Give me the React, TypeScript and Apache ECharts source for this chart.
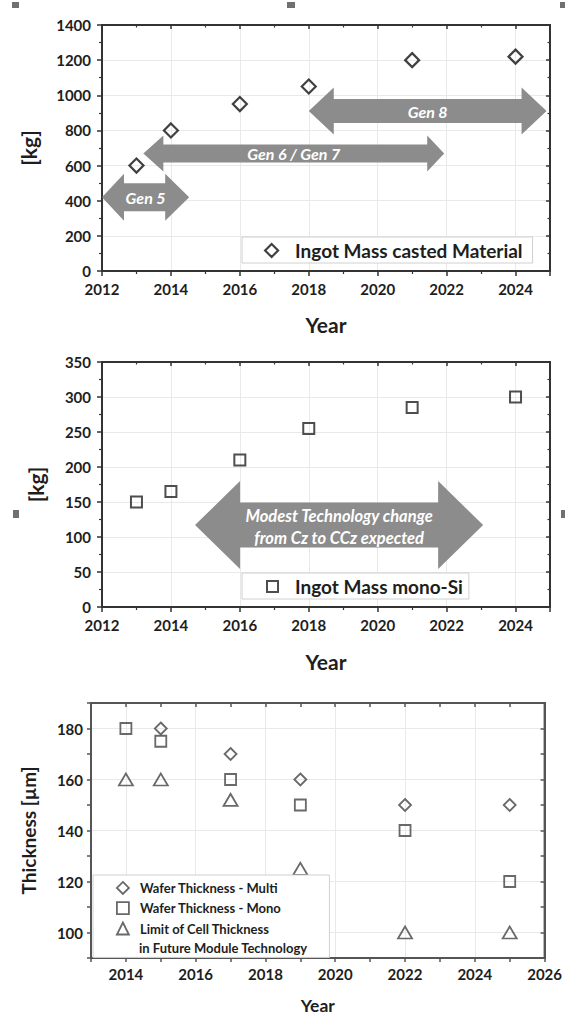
import React, { useEffect, useRef } from 'react';
import * as echarts from 'echarts';

// ---------- data ----------
const castedYears = [2013, 2014, 2016, 2018, 2021, 2024];
const castedMass = [600, 800, 950, 1050, 1200, 1220];

const monoYears = [2013, 2014, 2016, 2018, 2021, 2024];
const monoMass = [150, 165, 210, 255, 285, 300];

const genLabels = ['Gen 5', 'Gen 6 / Gen 7', 'Gen 8'];
const genFrom = [2012, 2013.2, 2018];
const genTo = [2014.53, 2021.93, 2024.9];
const genLevel = [420, 668, 910];

const techLines = ['Modest Technology change', 'from Cz to CCz expected'];
const techFrom = [2014.7];
const techTo = [2023.06];
const techLevel = [117];

const multiYears = [2015, 2017, 2019, 2022, 2025];
const multiThickness = [180, 170, 160, 150, 150];
const monoThkYears = [2014, 2015, 2017, 2019, 2022, 2025];
const monoThickness = [180, 175, 160, 150, 140, 120];
const limitYears = [2014, 2015, 2017, 2019, 2022, 2025];
const limitThickness = [160, 160, 152, 125, 100, 100];

const legendCasted = 'Ingot Mass casted Material';
const legendMono = 'Ingot Mass mono-Si';
const legendMulti = 'Wafer Thickness - Multi';
const legendMonoThk = 'Wafer Thickness - Mono';
const legendLimit = 'Limit of Cell Thickness';
const legendLimit2 = 'in Future Module Technology';

// ---------- styles ----------
const FONT = 'Lato';
const TXT = '#1e1e1e';
const AX1 = '#333333';
const AX3 = '#555555';
const MK3 = '#444444';
const GRIDC = '#e9e9e9';
const ARROW = '#8c8c8c';

const genHeadHalf = [23.5, 18, 23.5];
const genBodyHalf = [14, 9, 12];
const genHeadLen = [[22, 24], [20, 17], [25, 25]];
const techHeadHalf = [44];
const techBodyHalf = [22.5];
const techHeadLen = [[45, 45]];

const pair = (xs: number[], ys: number[]) => xs.map((x, i) => [x, ys[i]]);

function arrowRenderer(
  headHalf: number[],
  bodyHalf: number[],
  headLen: number[][],
  linesOf: (i: number) => string[],
  fontSize: number,
  lineOffsets: number[]
) {
  return (params: any, api: any) => {
    const i = api.value(3);
    const a = api.coord([api.value(0), api.value(2)]);
    const b = api.coord([api.value(1), api.value(2)]);
    const x1 = a[0];
    const x2 = b[0];
    const yc = a[1];
    const hh = headHalf[i];
    const bh = bodyHalf[i];
    const [l1, l2] = headLen[i];
    const points = [
      [x1, yc], [x1 + l1, yc - hh], [x1 + l1, yc - bh], [x2 - l2, yc - bh], [x2 - l2, yc - hh],
      [x2, yc], [x2 - l2, yc + hh], [x2 - l2, yc + bh], [x1 + l1, yc + bh], [x1 + l1, yc + hh],
    ];
    const lines = linesOf(i);
    const children: any[] = [
      { type: 'polygon', shape: { points }, style: { fill: ARROW } },
    ];
    lines.forEach((t, k) => {
      children.push({
        type: 'text',
        style: {
          text: t,
          x: (x1 + x2) / 2,
          y: yc + lineOffsets[k],
          fill: '#ffffff',
          fontFamily: FONT,
          fontSize,
          fontStyle: 'italic',
          fontWeight: 'bold',
          align: 'center',
          verticalAlign: 'middle',
        },
      });
    });
    return { type: 'group', children };
  };
}

const tickLabel = { fontFamily: FONT, fontWeight: 'bold' as const, fontSize: 15, color: TXT };

function mainX(gridIndex: number, min: number, max: number, interval: number, color: string, extra: any) {
  return {
    type: 'value', gridIndex, position: 'bottom', min, max, interval,
    axisLine: { show: true, onZero: false, lineStyle: { color, width: 2 } },
    axisTick: { show: true, inside: false, length: 5, lineStyle: { color, width: 1.5 } },
    splitLine: { show: true, lineStyle: { color: GRIDC, width: 1 } },
    axisLabel: { ...tickLabel, margin: 10, formatter: (v: number) => String(v) },
    nameLocation: 'middle',
    nameTextStyle: { fontFamily: FONT, fontWeight: 'bold', fontSize: 21, color: TXT },
    ...extra,
  };
}
function mirrorX(gridIndex: number, min: number, max: number, interval: number, color: string, minor: boolean) {
  return {
    type: 'value', gridIndex, position: 'top', min, max, interval,
    axisLine: { show: true, onZero: false, lineStyle: { color, width: 2 } },
    axisTick: { show: true, inside: true, length: 4, lineStyle: { color, width: 1.5 } },
    minorTick: { show: minor, splitNumber: 2, length: 2.5, lineStyle: { color, width: 1.2 } },
    splitLine: { show: false },
    axisLabel: { show: false },
  };
}
function mainY(gridIndex: number, min: number, max: number, interval: number, color: string, extra: any) {
  return {
    type: 'value', gridIndex, position: 'left', min, max, interval,
    axisLine: { show: true, onZero: false, lineStyle: { color, width: 2 } },
    axisTick: { show: true, inside: false, length: 5, lineStyle: { color, width: 1.5 } },
    splitLine: { show: true, lineStyle: { color: GRIDC, width: 1 } },
    axisLabel: { ...tickLabel, margin: 11, formatter: (v: number) => String(v) },
    nameLocation: 'middle',
    nameRotate: 90,
    nameTextStyle: { fontFamily: FONT, fontWeight: 'bold', fontSize: 21, color: TXT },
    ...extra,
  };
}
function mirrorY(gridIndex: number, min: number, max: number, interval: number, color: string, minor: boolean) {
  return {
    type: 'value', gridIndex, position: 'right', min, max, interval,
    axisLine: { show: true, onZero: false, lineStyle: { color, width: 2 } },
    axisTick: { show: true, inside: true, length: 4, lineStyle: { color, width: 1.5 } },
    minorTick: { show: minor, splitNumber: 2, length: 2.5, lineStyle: { color, width: 1.2 } },
    splitLine: { show: false },
    axisLabel: { show: false },
  };
}

const minor1 = (color: string) => ({ show: true, splitNumber: 2, length: 3, lineStyle: { color, width: 1.2 } });

function buildOption() {
  const handle = (x: number, y: number, w: number, h: number) => ({
    type: 'rect', shape: { x, y, width: w, height: h }, style: { fill: '#707070' }, z: 100,
  });
  return {
    animation: false,
    backgroundColor: '#ffffff',
    textStyle: { fontFamily: FONT },
    grid: [
      { left: 102, top: 25, width: 448, height: 246, show: true, borderColor: AX1, borderWidth: 2, backgroundColor: 'transparent' },
      { left: 102, top: 362, width: 448, height: 245, show: true, borderColor: AX1, borderWidth: 2, backgroundColor: 'transparent' },
      { left: 91, top: 703, width: 459, height: 255, show: true, borderColor: AX3, borderWidth: 2, backgroundColor: 'transparent' },
    ],
    xAxis: [
      mainX(0, 2012, 2025, 2, AX1, { minorTick: minor1(AX1), axisLabel: { ...tickLabel, margin: 10, showMaxLabel: false, formatter: (v: number) => String(v) }, name: 'Year', nameGap: 43 }),
      mirrorX(0, 2012, 2025, 2, AX1, true),
      mainX(1, 2012, 2025, 2, AX1, { minorTick: minor1(AX1), axisLabel: { ...tickLabel, margin: 10, showMaxLabel: false, formatter: (v: number) => String(v) }, name: 'Year', nameGap: 44 }),
      mirrorX(1, 2012, 2025, 2, AX1, true),
      mainX(2, 2013, 2026, 1, AX3, {
        axisTick: { show: true, inside: false, length: 4, lineStyle: { color: AX3, width: 1.5 } },
        splitLine: { show: true, lineStyle: { color: ['rgba(0,0,0,0)', GRIDC], width: 1 } },
        axisLabel: { ...tickLabel, margin: 8, formatter: (v: number) => (v % 2 === 0 ? String(v) : '') },
        name: 'Year', nameGap: 38,
        nameTextStyle: { fontFamily: FONT, fontWeight: 'bold', fontSize: 17.5, color: TXT },
      }),
      mirrorX(2, 2013, 2026, 1, AX3, false),
    ],
    yAxis: [
      mainY(0, 0, 1400, 200, AX1, { minorTick: minor1(AX1), name: '[kg]', nameGap: 63 }),
      mirrorY(0, 0, 1400, 200, AX1, true),
      mainY(1, 0, 350, 50, AX1, { minorTick: minor1(AX1), name: '[kg]', nameGap: 56 }),
      mirrorY(1, 0, 350, 50, AX1, true),
      mainY(2, 90, 190, 10, AX3, {
        axisTick: { show: true, inside: false, length: 4, lineStyle: { color: AX3, width: 1.5 } },
        splitLine: { show: true, lineStyle: { color: ['rgba(0,0,0,0)', GRIDC], width: 1 } },
        axisLabel: { ...tickLabel, margin: 8, formatter: (v: number) => (v % 20 === 0 && v !== 190 && v !== 90 ? String(v) : '') },
        name: 'Thickness [µm]', nameGap: 53,
        nameTextStyle: { fontFamily: FONT, fontWeight: 'bold', fontSize: 19, color: TXT },
      }),
      mirrorY(2, 90, 190, 10, AX3, false),
    ],
    legend: [
      {
        left: 242, top: 237, orient: 'horizontal', padding: [4, 10, 3, 22],
        itemWidth: 13, itemHeight: 13,
        backgroundColor: '#ffffff', borderColor: '#d0d0d0', borderWidth: 1,
        textStyle: { fontFamily: FONT, fontWeight: 'bold', fontSize: 19, color: TXT, padding: [0, 0, 0, 12] },
        selectedMode: false,
        data: [{ name: legendCasted, icon: 'diamond', itemStyle: { color: '#ffffff', borderColor: '#111111', borderWidth: 2.2 } }],
      },
      {
        left: 242, top: 573, orient: 'horizontal', padding: [4, 6, 3, 24],
        itemWidth: 11, itemHeight: 11,
        backgroundColor: '#ffffff', borderColor: '#d0d0d0', borderWidth: 1,
        textStyle: { fontFamily: FONT, fontWeight: 'bold', fontSize: 19, color: TXT, padding: [0, 0, 0, 12] },
        selectedMode: false,
        data: [{ name: legendMono, icon: 'rect', itemStyle: { color: '#ffffff', borderColor: '#222222', borderWidth: 2 } }],
      },
      {
        left: 93, top: 875, orient: 'vertical', padding: [6, 48, 22, 23], itemGap: 6.5,
        itemWidth: 12, itemHeight: 12,
        backgroundColor: '#ffffff', borderColor: '#d0d0d0', borderWidth: 1,
        textStyle: { fontFamily: FONT, fontWeight: 'bold', fontSize: 13, color: TXT, padding: [0, 0, 0, 6] },
        selectedMode: false,
        data: [
          { name: legendMulti, icon: 'diamond', itemStyle: { color: '#ffffff', borderColor: MK3, borderWidth: 1.8 } },
          { name: legendMonoThk, icon: 'rect', itemStyle: { color: '#ffffff', borderColor: MK3, borderWidth: 1.8 } },
          { name: legendLimit, icon: 'triangle', itemStyle: { color: '#ffffff', borderColor: MK3, borderWidth: 1.8 } },
        ],
      },
    ],
    graphic: [
      {
        type: 'text', x: 139, y: 948, z: 100,
        style: { text: legendLimit2, fill: TXT, fontFamily: FONT, fontWeight: 'bold', fontSize: 13, verticalAlign: 'middle' },
      },
      handle(12, 2, 7, 6),
      handle(287, 2, 8, 6),
      handle(560, 2, 5, 6),
      handle(13, 510, 6, 8),
      handle(561, 510, 4, 8),
    ],
    series: [
      {
        type: 'custom', name: 'genArrows', xAxisIndex: 0, yAxisIndex: 0, z: 1,
        encode: { x: [0, 1], y: 2 },
        data: genFrom.map((f, i) => [f, genTo[i], genLevel[i], i]),
        renderItem: arrowRenderer(genHeadHalf, genBodyHalf, genHeadLen, (i) => [genLabels[i]], 16, [0]),
      },
      {
        type: 'scatter', name: legendCasted, xAxisIndex: 0, yAxisIndex: 0, z: 3,
        symbol: 'diamond', symbolSize: 14,
        itemStyle: { color: 'rgba(255,255,255,0)', borderColor: '#111111', borderWidth: 2.2 },
        data: pair(castedYears, castedMass),
      },
      {
        type: 'custom', name: 'techArrow', xAxisIndex: 2, yAxisIndex: 2, z: 1,
        encode: { x: [0, 1], y: 2 },
        data: techFrom.map((f, i) => [f, techTo[i], techLevel[i], i]),
        renderItem: arrowRenderer(techHeadHalf, techBodyHalf, techHeadLen, () => techLines, 16.5, [-9, 12.5]),
      },
      {
        type: 'scatter', name: legendMono, xAxisIndex: 2, yAxisIndex: 2, z: 3,
        symbol: 'rect', symbolSize: 11,
        itemStyle: { color: 'rgba(255,255,255,0)', borderColor: '#222222', borderWidth: 2 },
        data: pair(monoYears, monoMass),
      },
      {
        type: 'scatter', name: legendMulti, xAxisIndex: 4, yAxisIndex: 4, z: 3,
        symbol: 'diamond', symbolSize: 12,
        itemStyle: { color: 'rgba(255,255,255,0)', borderColor: MK3, borderWidth: 1.8 },
        data: pair(multiYears, multiThickness),
      },
      {
        type: 'scatter', name: legendMonoThk, xAxisIndex: 4, yAxisIndex: 4, z: 3,
        symbol: 'rect', symbolSize: 11,
        itemStyle: { color: 'rgba(255,255,255,0)', borderColor: MK3, borderWidth: 1.8 },
        data: pair(monoThkYears, monoThickness),
      },
      {
        type: 'scatter', name: legendLimit, xAxisIndex: 4, yAxisIndex: 4, z: 3,
        symbol: 'triangle', symbolSize: [14, 12],
        itemStyle: { color: 'rgba(255,255,255,0)', borderColor: MK3, borderWidth: 1.8 },
        data: pair(limitYears, limitThickness),
      },
    ],
  };
}

export default function App() {
  const ref = useRef<HTMLDivElement>(null);
  useEffect(() => {
    document.body.style.margin = '0';
    if (!ref.current) return;
    const chart = echarts.init(ref.current, undefined, { renderer: 'svg' });
    chart.setOption(buildOption() as any);
    return () => chart.dispose();
  }, []);
  return <div ref={ref} style={{ width: 565, height: 1015 }} />;
}
